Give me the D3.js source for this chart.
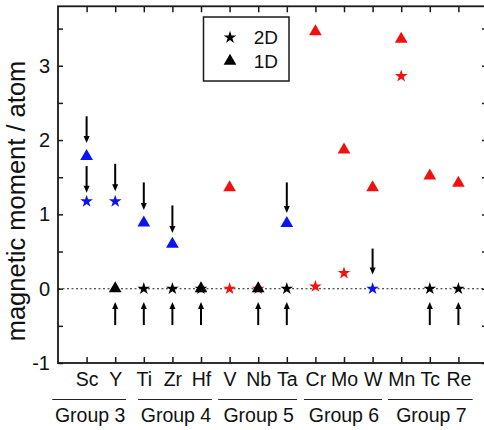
<!DOCTYPE html>
<html>
<head>
<meta charset="utf-8">
<script src="https://cdn.jsdelivr.net/npm/d3@7"></script>
<style>
  html, body { margin: 0; padding: 0; background: #fff; }
  svg { display: block; }
  text { font-family: "Liberation Sans", Arial, sans-serif; fill: #111; }
</style>
</head>
<body>
<svg id="chart" width="484" height="430"></svg>
<script>
// ---- data ----
const elements = ["Sc","Y","Ti","Zr","Hf","V","Nb","Ta","Cr","Mo","W","Mn","Tc","Re"];
const moment2D = [1.175, 1.175, 0, 0, 0, 0, 0, 0, 0.03, 0.21, 0, 2.86, 0, 0];
const color2D  = ["blue","blue","black","black","black","red","red","black","red","red","blue","red","black","black"];
const moment1D = [1.78, 0, 0.885, 0.60, 0, 1.36, 0, 0.88, 3.46, 1.87, 1.36, 3.36, 1.52, 1.42];
const color1D  = ["blue","black","blue","blue","black","red","black","blue","red","red","red","red","red","red"];
const yMajorTicks = [-1, 0, 1, 2, 3];
const yTickLabels = ["-1", "0", "1", "2", "3"];
const yMinorTicks = [-0.5, 0.5, 1.5, 2.5, 3.5];
const groupNames = ["Group 3","Group 4","Group 5","Group 6","Group 7"];
const groupSpans = [[-0.2, 2.38], [2.8, 5.38], [5.6, 8.36], [8.6, 11.33], [11.54, 14.5]];
// arrows: element, from value (tail), to value (tip)
const arrowElem = ["Sc","Sc","Y","Ti","Zr","Ta","W","Y","Ti","Zr","Hf","Nb","Ta","Tc","Re"];
const arrowFrom = [2.32, 1.65, 1.68, 1.43, 1.12, 1.43, 0.54, -0.49, -0.49, -0.49, -0.49, -0.49, -0.49, -0.49, -0.49];
const arrowTo   = [1.96, 1.29, 1.31, 1.06, 0.75, 1.02, 0.19, -0.18, -0.18, -0.18, -0.18, -0.18, -0.18, -0.18, -0.18];
const legendLabels = ["2D","1D"];

const colorMap = {blue: "#0a14f0", red: "#f01010", black: "#000"};

// ---- layout ----
const svg = d3.select("#chart");
const x = d3.scaleLinear().domain([0, 15]).range([58, 487]);
const y = d3.scaleLinear().domain([-1, 3.8]).range([363, 6.3]);
const frameColor = "#1a1a1a";

// zero dotted line
svg.append("line")
  .attr("x1", x(0)).attr("x2", x(15))
  .attr("y1", y(0)).attr("y2", y(0))
  .attr("stroke", "#222").attr("stroke-width", 1.1)
  .attr("stroke-dasharray", "2,2.5");

// axes
const axL = svg.append("g").attr("transform", `translate(${x(0)},0)`)
  .call(d3.axisLeft(y).tickValues(yMajorTicks).tickSizeInner(-5).tickSizeOuter(0).tickPadding(8)
    .tickFormat(d => yTickLabels[yMajorTicks.indexOf(d)]));
const axLm = svg.append("g").attr("transform", `translate(${x(0)},0)`)
  .call(d3.axisLeft(y).tickValues(yMinorTicks).tickSizeInner(-5).tickSizeOuter(0).tickFormat(""));
const axR = svg.append("g").attr("transform", `translate(${x(15)},0)`)
  .call(d3.axisRight(y).tickValues(yMajorTicks.concat(yMinorTicks)).tickSizeInner(-5).tickSizeOuter(0).tickFormat(""));
const axB = svg.append("g").attr("transform", `translate(0,${y(-1)})`)
  .call(d3.axisBottom(x).tickValues(d3.range(1, 15)).tickSizeInner(-6).tickSizeOuter(0).tickPadding(9)
    .tickFormat(i => elements[i - 1]));
const axT = svg.append("g").attr("transform", `translate(0,${y(3.8)})`)
  .call(d3.axisTop(x).tickValues(d3.range(1, 15)).tickSizeInner(-6).tickSizeOuter(0).tickFormat(""));

[axL, axLm, axR, axB, axT].forEach(g => {
  g.select(".domain").remove();
  g.selectAll(".tick line").attr("stroke", frameColor).attr("stroke-width", 1.5);
  g.selectAll(".tick text").attr("font-size", 19.5).attr("fill", "#111")
    .style("font-family", "'Liberation Sans', Arial, sans-serif");
});
axL.selectAll(".tick text").attr("font-size", 20);

// frame
svg.append("rect")
  .attr("x", x(0)).attr("y", y(3.8))
  .attr("width", x(15) - x(0)).attr("height", y(-1) - y(3.8))
  .attr("fill", "none").attr("stroke", frameColor).attr("stroke-width", 1.8);

// markers
const star = d3.symbol().type(d3.symbolStar).size(50);
const tri = d3.symbol().type(d3.symbolTriangle).size(70);

svg.append("g").selectAll("path")
  .data(elements.map((e, i) => ({i, v: moment2D[i], c: color2D[i]})))
  .join("path")
  .attr("d", star)
  .attr("transform", d => `translate(${x(d.i + 1)},${y(d.v)})`)
  .attr("fill", d => colorMap[d.c]);

svg.append("g").selectAll("path")
  .data(elements.map((e, i) => ({i, v: moment1D[i], c: color1D[i]})))
  .join("path")
  .attr("d", tri)
  .attr("transform", d => `translate(${x(d.i + 1)},${y(d.v)})`)
  .attr("fill", d => colorMap[d.c]);

// arrows
const arrows = arrowElem.map((e, k) => ({i: elements.indexOf(e), from: arrowFrom[k], to: arrowTo[k]}));
const ag = svg.append("g");
arrows.forEach(a => {
  const ax = x(a.i + 1), y1 = y(a.from), y2 = y(a.to);
  const dir = Math.sign(y2 - y1); // +1 downward
  const headLen = 7, headW = 3;
  ag.append("line")
    .attr("x1", ax).attr("x2", ax)
    .attr("y1", y1).attr("y2", y2 - dir * (headLen - 1))
    .attr("stroke", "#000").attr("stroke-width", 2);
  ag.append("path")
    .attr("d", `M${ax - headW},${y2 - dir * headLen}L${ax + headW},${y2 - dir * headLen}L${ax},${y2}Z`)
    .attr("fill", "#000");
});

// legend
const lg = svg.append("g");
lg.append("rect").attr("x", 203.5).attr("y", 17).attr("width", 85.5).attr("height", 64)
  .attr("fill", "#fff").attr("stroke", frameColor).attr("stroke-width", 1.5);
const legendSymbols = [star, tri];
legendLabels.forEach((lab, k) => {
  const cy = 37.5 + k * 23.5;
  lg.append("path").attr("d", legendSymbols[k]).attr("transform", `translate(230,${cy})`).attr("fill", "#000");
  lg.append("text").attr("x", 278).attr("y", cy + 6.5).attr("text-anchor", "end")
    .attr("font-size", 19).text(lab);
});

// groups
const gg = svg.append("g");
groupNames.forEach((name, k) => {
  const [a, b] = groupSpans[k];
  gg.append("line").attr("x1", x(a)).attr("x2", x(b)).attr("y1", 399.5).attr("y2", 399.5)
    .attr("stroke", "#222").attr("stroke-width", 1.2);
  gg.append("text").attr("x", (x(a) + x(b)) / 2 + 1).attr("y", 422).attr("text-anchor", "middle")
    .attr("font-size", 19.5).text(name);
});

// y-axis title
svg.append("text")
  .attr("transform", "translate(25,201) rotate(-90)")
  .attr("text-anchor", "middle")
  .attr("font-size", 25.5)
  .text("magnetic moment / atom");
</script>
</body>
</html>
